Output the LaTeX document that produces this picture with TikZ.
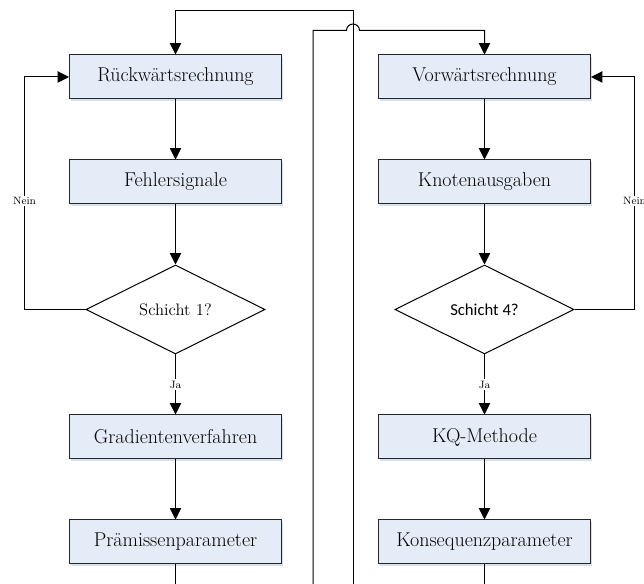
\documentclass[tikz,border=0pt]{standalone}
\usepackage{fontspec}
\newfontfamily\calibri{Carlito}
\usetikzlibrary{shapes.geometric, arrows.meta, positioning, shadows}
\definecolor{boxblue}{RGB}{228,236,247}
\definecolor{shadeblue}{RGB}{212,225,242}

\begin{document}
\begin{tikzpicture}[
    x=0.75pt,
    y=0.75pt,
    node distance=45pt,
    box/.style={
        rectangle,
        draw=black!85,
        fill=boxblue,
        line width=0.75pt,
        minimum width=159pt,
        minimum height=33pt,
        inner sep=0pt,
        font=\fontsize{15}{18}\selectfont,
        drop shadow={shadow xshift=0.8pt, shadow yshift=-1.8pt, fill=shadeblue, opacity=1}
    },
    decision/.style={
        diamond,
        draw=black,
        fill=white,
        line width=0.75pt,
        aspect=2,
        minimum width=134.25pt,
        minimum height=66.75pt,
        inner sep=0pt,
        font=\fontsize{12.5}{15}\selectfont
    },
    arrow/.style={
        -{Triangle[length=8.5pt, width=8.5pt]},
        line width=0.75pt
    },
    line/.style={line width=0.75pt},
    lbl/.style={fill=white, inner sep=1pt, font=\fontsize{8}{9}\selectfont}
]
    \useasboundingbox (0,0) rectangle (644,584);

    % linke Spalte
    \node [box] (rueck) at (175.5,507) {Rückwärtsrechnung};
    \node [box, below=of rueck] (fehler) {Fehlersignale};
    \node [decision, below=of fehler] (schicht1) {Schicht 1?};
    \node [box, below=of schicht1] (gradient) {Gradientenverfahren};
    \node [box, below=of gradient] (praem) {Prämissenparameter};

    % rechte Spalte
    \node [box, right=72pt of rueck] (vor) {Vorwärtsrechnung};
    \node [box, below=of vor] (knoten) {Knotenausgaben};
    \node [decision, below=of knoten] (schicht4) {\calibri Schicht 4?};
    \node [box, below=of schicht4] (kq) {KQ-Methode};
    \node [box, below=of kq] (kons) {Konsequenzparameter};

    % freie Enden
    \coordinate (base) at (0,0);
    \coordinate (lineA) at (313,0);
    \coordinate (lineB) at (353,0);
    \coordinate (topB) at (353,573);
    \coordinate (hopA) at (346.5,553.5);

    \draw [arrow] (rueck) -- (fehler);
    \draw [arrow] (fehler) -- (schicht1);
    \draw [arrow] (schicht1) -- node[lbl]{Ja} (gradient);
    \draw [arrow] (gradient) -- (praem);
    \draw [line] (praem) -- (praem |- base);
    \draw [arrow] (schicht1.west) -- ++(-61,0) |- node[lbl, pos=0.233]{Nein} (rueck.west);

    \draw [arrow] (vor) -- (knoten);
    \draw [arrow] (knoten) -- (schicht4);
    \draw [arrow] (schicht4) -- node[lbl]{Ja} (kq);
    \draw [arrow] (kq) -- (kons);
    \draw [line] (kons) -- (kons |- base);
    \draw [arrow] (schicht4.east) -- ++(60,0) |- node[lbl, pos=0.233]{Nein} (vor.east);

    \draw [arrow] (lineB) -- (topB) -| (rueck);
    \draw [arrow] (lineA) |- (hopA) arc[start angle=180, end angle=0, radius=4.875pt] -| (vor);
\end{tikzpicture}
\end{document}
